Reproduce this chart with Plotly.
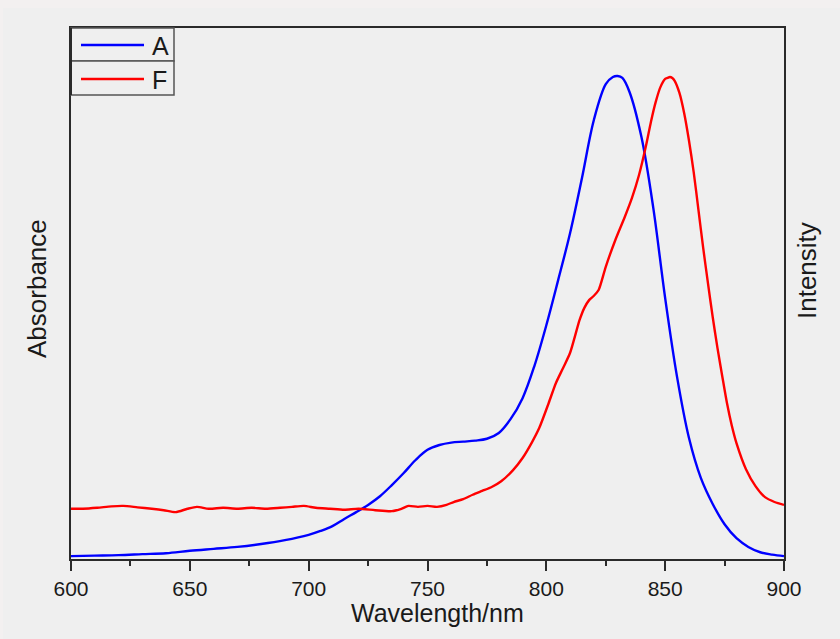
import plotly.graph_objects as go

# ---- data (normalized) ----
series_names = ["A", "F"]
series_colors = ["#0000ff", "#ff0000"]

wl_A = [600, 610, 620, 630, 640, 650, 660, 670, 680, 690, 700, 705, 710, 715, 720, 725, 730,
        735, 740, 745, 750, 755, 760, 765, 770, 775, 780, 785, 790, 795, 800, 805, 810, 815,
        820, 825, 828, 830, 832, 835, 840, 845, 850, 855, 860, 865, 870, 875, 880, 885, 890,
        895, 900]
absorb_A = [0.006, 0.007, 0.008, 0.010, 0.012, 0.017, 0.021, 0.025, 0.031, 0.039, 0.050, 0.058,
            0.068, 0.083, 0.097, 0.112, 0.130, 0.153, 0.178, 0.205, 0.226, 0.236, 0.241, 0.243,
            0.245, 0.249, 0.261, 0.290, 0.333, 0.400, 0.484, 0.578, 0.675, 0.789, 0.909, 0.983,
            0.998, 1.000, 0.996, 0.967, 0.874, 0.727, 0.540, 0.377, 0.251, 0.168, 0.114, 0.072,
            0.043, 0.025, 0.014, 0.009, 0.006]

wl_F = [600, 605, 611, 617, 622, 628, 634, 639, 644, 649, 653, 658, 664, 670, 676, 682, 688,
        693, 698, 703, 709, 715, 721, 728, 735, 739, 742, 746, 750, 754, 758, 761, 765, 769,
        773, 777, 781, 786, 790, 794, 797, 801, 804, 807, 810, 814, 816, 818, 820, 822, 825,
        829, 833, 836, 839, 842, 844, 846, 848, 850, 851, 852, 853, 854, 856, 858, 860, 862,
        864, 866, 868, 870, 872, 874, 876, 878, 880, 884, 888, 892, 896, 900]
intens_F = [0.104, 0.104, 0.106, 0.109, 0.110, 0.107, 0.104, 0.101, 0.097, 0.104, 0.108, 0.104,
            0.106, 0.104, 0.106, 0.104, 0.106, 0.108, 0.110, 0.106, 0.104, 0.102, 0.104, 0.101,
            0.099, 0.104, 0.110, 0.108, 0.110, 0.108, 0.112, 0.118, 0.124, 0.133, 0.141, 0.149,
            0.161, 0.184, 0.209, 0.242, 0.271, 0.323, 0.364, 0.395, 0.427, 0.495, 0.520, 0.536,
            0.545, 0.557, 0.605, 0.660, 0.708, 0.747, 0.795, 0.857, 0.905, 0.946, 0.977, 0.994,
            0.996, 0.998, 0.996, 0.990, 0.965, 0.923, 0.867, 0.801, 0.723, 0.644, 0.571, 0.501,
            0.437, 0.379, 0.323, 0.277, 0.240, 0.186, 0.151, 0.128, 0.118, 0.112]

x_ticks = [600, 650, 700, 750, 800, 850, 900]
x_title = "Wavelength/nm"
y_title_left = "Absorbance"
y_title_right = "Intensity"

FONT = "Liberation Sans, Arial, sans-serif"
W, H = 840, 639
L, R, T, B = 71, 56, 28, 80
pw, ph = W - L - R, H - T - B

def px(xp):  # pixel -> paper x
    return (xp - L) / pw

def py(yp):  # pixel -> paper y
    return (H - B - yp) / ph

fig = go.Figure()
fig.add_trace(go.Scatter(x=wl_A, y=absorb_A, mode="lines", name=series_names[0],
                         line=dict(color=series_colors[0], width=2.4, shape="spline", smoothing=1.0),
                         showlegend=False))
fig.add_trace(go.Scatter(x=wl_F, y=intens_F, mode="lines", name=series_names[1], yaxis="y2",
                         line=dict(color=series_colors[1], width=2.4, shape="spline", smoothing=0.7),
                         showlegend=False))

axis_line = dict(showline=True, linecolor="#2a2a2a", linewidth=2)
fig.update_layout(
    template="none",
    width=W, height=H,
    margin=dict(l=L, r=R, t=T, b=B, autoexpand=False),
    paper_bgcolor="#f3f0f0",
    plot_bgcolor="#efefef",
    font=dict(family=FONT, color="#1a1a1a"),
    xaxis=dict(range=[600, 900], tickvals=x_ticks, ticks="outside", ticklen=10, tickwidth=2,
               tickcolor="#2a2a2a", showgrid=False, zeroline=False, mirror=True, automargin=False,
               tickfont=dict(size=21, family=FONT, color="#1a1a1a"),
               minor=dict(dtick=25, ticks="outside", ticklen=5, tickwidth=2, tickcolor="#2a2a2a",
                          showgrid=False),
               **axis_line),
    yaxis=dict(range=[0, 1.0994], showticklabels=False, ticks="", showgrid=False,
               zeroline=False, mirror=True, automargin=False, **axis_line),
    yaxis2=dict(range=[0, 1.0994], overlaying="y", side="right", showticklabels=False,
                ticks="", showgrid=False, zeroline=False, showline=False, automargin=False),
)

shapes = [
    # inner light panel (outer band is textured in the original)
    dict(type="rect", xref="paper", yref="paper", x0=px(3), x1=px(W + 5), y0=py(8), y1=py(H + 5),
         fillcolor="#efefef", line=dict(width=0), layer="below"),
]
annotations = []

# legend boxes drawn manually
box_x0, box_x1 = 71, 174
rows = [(28, 61, 45), (61, 95, 79)]
for i, (y0, y1, yc) in enumerate(rows):
    shapes.append(dict(type="rect", xref="paper", yref="paper", x0=px(box_x0), x1=px(box_x1),
                       y0=py(y1), y1=py(y0), fillcolor="#efefef",
                       line=dict(color="#555555", width=1.5)))
    shapes.append(dict(type="line", xref="paper", yref="paper", x0=px(81), x1=px(144),
                       y0=py(yc), y1=py(yc), line=dict(color=series_colors[i], width=2.4)))
    annotations.append(dict(text=series_names[i], xref="paper", yref="paper", x=px(150), y=py(yc + 1),
                            xanchor="left", yanchor="middle", showarrow=False,
                            font=dict(size=25, family=FONT, color="#1a1a1a")))
# redraw left axis line over legend box border
shapes.append(dict(type="line", xref="paper", yref="paper", x0=0, x1=0, y0=py(95), y1=1,
                   line=dict(color="#2a2a2a", width=2)))

annotations += [
    dict(text=x_title, xref="paper", yref="paper", x=px(437), y=py(613), xanchor="center",
         yanchor="middle", showarrow=False, font=dict(size=25, family=FONT, color="#1a1a1a")),
    dict(text=y_title_left, xref="paper", yref="paper", x=px(37), y=py(289), xanchor="center",
         yanchor="middle", textangle=-90, showarrow=False,
         font=dict(size=26, family=FONT, color="#1a1a1a")),
    dict(text=y_title_right, xref="paper", yref="paper", x=px(807), y=py(271), xanchor="center",
         yanchor="middle", textangle=-90, showarrow=False,
         font=dict(size=26, family=FONT, color="#1a1a1a")),
]

fig.update_layout(shapes=shapes, annotations=annotations)
fig.write_html("out.html", config={"displayModeBar": False},
               post_script="document.body.style.margin='0';document.body.style.background='#f3f0f0';")
